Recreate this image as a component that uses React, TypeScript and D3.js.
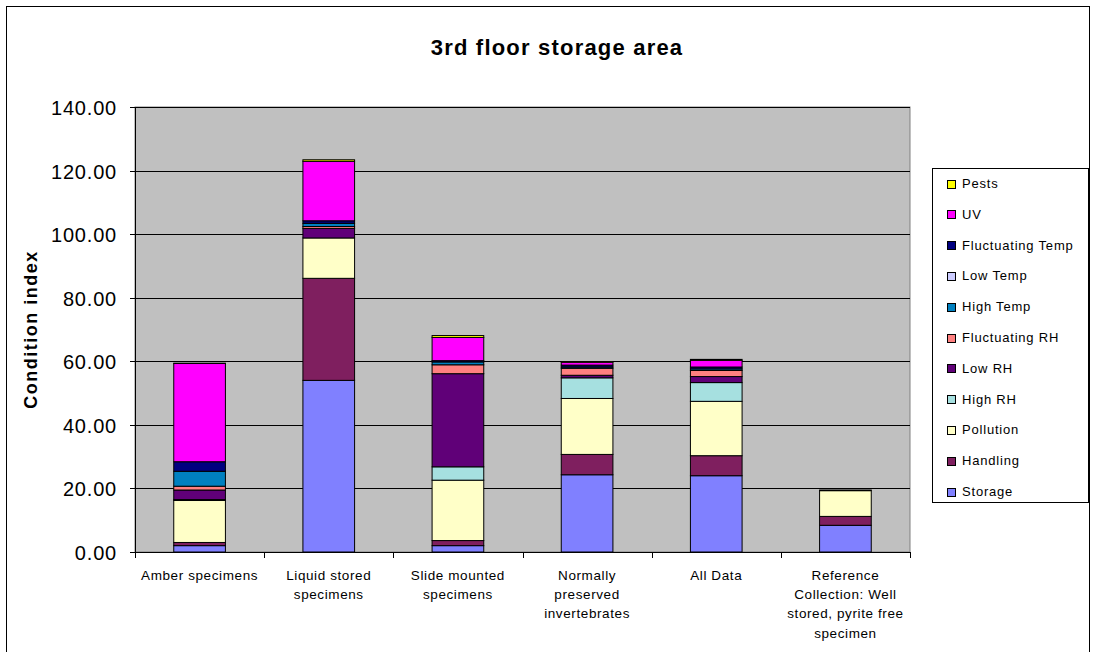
import React from 'react';
import * as d3 from 'd3';

// categories and their wrapped tick labels
const categories = ['Amber', 'Liquid', 'Slide', 'Normally', 'All', 'Reference'];
const categoryLabels = [
  ['Amber specimens'],
  ['Liquid stored', 'specimens'],
  ['Slide mounted', 'specimens'],
  ['Normally', 'preserved', 'invertebrates'],
  ['All Data'],
  ['Reference', 'Collection: Well', 'stored, pyrite free', 'specimen'],
];

// series values (bottom of stack first)
const storage = [2.0, 54.0, 2.0, 24.3, 24.0, 8.4];
const handling = [1.0, 32.1, 1.6, 6.4, 6.3, 2.8];
const pollution = [13.2, 12.7, 19.0, 17.6, 17.1, 8.1];
const highRH = [0.3, 0, 4.2, 6.5, 5.9, 0];
const lowRH = [3.0, 3.0, 29.3, 0.8, 1.9, 0];
const fluctRH = [1.2, 0.6, 2.8, 2.2, 1.9, 0];
const highTemp = [4.7, 1.0, 0.9, 0.4, 0.5, 0];
const lowTemp = [0, 0, 0, 0, 0, 0];
const fluctTemp = [3.0, 0.8, 0.4, 0.6, 0.6, 0];
const uv = [30.9, 18.7, 7.3, 0.9, 2.1, 0];
const pests = [0.1, 0.5, 0.6, 0.2, 0.3, 0.2];

const seriesNames = ['Storage', 'Handling', 'Pollution', 'High RH', 'Low RH', 'Fluctuating RH', 'High Temp', 'Low Temp', 'Fluctuating Temp', 'UV', 'Pests'];
const seriesValues = [storage, handling, pollution, highRH, lowRH, fluctRH, highTemp, lowTemp, fluctTemp, uv, pests];
const seriesColors = ['#8080FF', '#7F1F5F', '#FFFFC8', '#A6E0E0', '#600078', '#FF8080', '#0080C0', '#CCCCFF', '#000080', '#FF00FF', '#FFFF00'];

const yTicks = [0, 20, 40, 60, 80, 100, 120, 140];

const W = 1096;
const H = 652;
const plot = { left: 135, right: 910, top: 107, bottom: 552 };
const font = 'Arial, "Liberation Sans", Helvetica, sans-serif';

export default function App() {
  const rows = categories.map((c, i) => {
    const r: Record<string, number | string> = { cat: c };
    seriesNames.forEach((s, j) => (r[s] = seriesValues[j][i]));
    return r;
  });
  const stacked = d3.stack<Record<string, number | string>>().keys(seriesNames)(rows as any);

  const x = d3.scaleBand<string>().domain(categories).range([plot.left, plot.right]).paddingInner(0.6).paddingOuter(0.3);
  const y = d3.scaleLinear().domain([0, 140]).range([plot.bottom, plot.top]);
  const step = x.step();
  const fmt = d3.format('.2f');

  const legend = { x: 932, y: 168, w: 156, h: 334, rowH: 30.8 };
  const legendOrder = seriesNames.map((_, i) => i).reverse();

  return (
    <svg width={W} height={H} style={{ position: 'absolute', left: 0, top: 0, display: 'block' }} fontFamily={font}>
      <rect x={0} y={0} width={W} height={H} fill="#fff" />
      <rect x={6.5} y={6.5} width={1083} height={660} fill="none" stroke="#000" strokeWidth={1} />

      <text x={557} y={55} textAnchor="middle" fontSize={22} fontWeight="bold" letterSpacing={1.2}>3rd floor storage area</text>

      {/* plot area */}
      <rect x={plot.left} y={plot.top} width={plot.right - plot.left} height={plot.bottom - plot.top} fill="#C0C0C0" stroke="#808080" />
      {yTicks.map((t) => (
        <line key={t} x1={plot.left} x2={plot.right} y1={Math.round(y(t)) + 0.5} y2={Math.round(y(t)) + 0.5} stroke="#000" strokeWidth={1} />
      ))}

      {/* bars */}
      {stacked.map((s, j) => (
        <g key={s.key}>
          {s.map((d, i) => {
            const h = y(d[0]) - y(d[1]);
            if (h <= 0) return null;
            return (
              <rect
                key={i}
                x={x(categories[i])!}
                y={y(d[1])}
                width={x.bandwidth()}
                height={h}
                fill={seriesColors[j]}
                stroke="#000"
                strokeWidth={1}
              />
            );
          })}
        </g>
      ))}

      {/* y axis */}
      <line x1={plot.left + 0.5} x2={plot.left + 0.5} y1={plot.top} y2={plot.bottom + 1} stroke="#000" />
      {yTicks.map((t) => (
        <g key={t} transform={`translate(0,${Math.round(y(t)) + 0.5})`}>
          <line x1={plot.left - 5} x2={plot.left} stroke="#000" />
          <text x={plot.left - 18} y={0} dy="0.35em" textAnchor="end" fontSize={20} letterSpacing={0.8}>{fmt(t)}</text>
        </g>
      ))}
      <text transform={`translate(37,${(plot.top + plot.bottom) / 2}) rotate(-90)`} textAnchor="middle" fontSize={18} fontWeight="bold" letterSpacing={1.5}>Condition index</text>

      {/* x axis */}
      <line x1={plot.left} x2={plot.right} y1={plot.bottom + 0.5} y2={plot.bottom + 0.5} stroke="#000" />
      {d3.range(categories.length + 1).map((i) => {
        const tx = Math.round(plot.left + i * step) + 0.5;
        return <line key={i} x1={tx} x2={tx} y1={plot.bottom} y2={plot.bottom + 6} stroke="#000" />;
      })}
      {categories.map((c, i) => (
        <text key={c} x={x(c)! + x.bandwidth() / 2} y={580} textAnchor="middle" fontSize={13.5} letterSpacing={0.6}>
          {categoryLabels[i].map((l, k) => (
            <tspan key={k} x={x(c)! + x.bandwidth() / 2} dy={k === 0 ? 0 : 19.2}>{l}</tspan>
          ))}
        </text>
      ))}

      {/* legend */}
      <rect x={legend.x + 0.5} y={legend.y + 0.5} width={legend.w} height={legend.h} fill="#fff" stroke="#000" />
      {legendOrder.map((j, k) => {
        const cy = 183.5 + k * legend.rowH;
        return (
          <g key={j}>
            <rect x={947.5} y={Math.round(cy - 4) + 0.5} width={8} height={8} fill={seriesColors[j]} stroke="#000" />
            <text x={962} y={cy} dy="0.35em" fontSize={13} letterSpacing={0.8}>{seriesNames[j]}</text>
          </g>
        );
      })}
    </svg>
  );
}
